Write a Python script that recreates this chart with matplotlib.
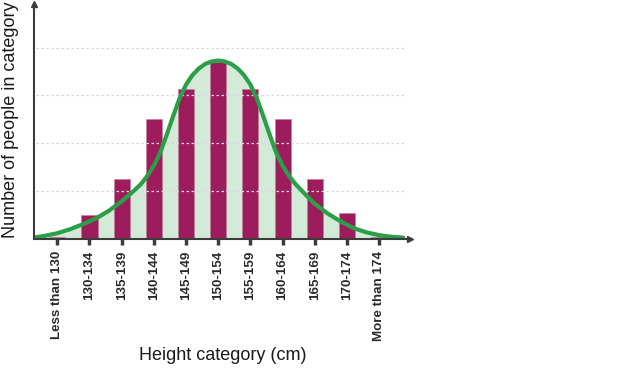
import matplotlib as mpl
mpl.use('Agg')
import matplotlib.pyplot as plt

# categories and bar heights (arbitrary units, one grid line = 20)
categories = ['Less than 130', '130-134', '135-139', '140-144', '145-149', '150-154',
              '155-159', '160-164', '165-169', '170-174', 'More than 174']
counts = [0.5, 10, 25, 50, 62.5, 74, 62.5, 50, 25, 10.5, 0.5]

# bell curve (x in category positions)
curve_x = [-0.75, -0.4, 0.0, 0.4, 0.8, 1.2, 1.6, 2.0, 2.3, 2.6, 2.8, 3.0, 3.2, 3.4,
           3.6, 3.8, 4.0, 4.2, 4.4, 4.6, 4.8, 5.0, 5.2, 5.4, 5.6, 5.8, 6.0, 6.2, 6.4,
           6.6, 6.8, 7.0, 7.2, 7.4, 7.7, 8.0, 8.4, 8.8, 9.2, 9.6, 10.0, 10.4, 10.75]
curve_y = [0.35, 1.1, 2.2, 3.9, 6.0, 8.4, 11.6, 15.6, 19.0, 22.8, 26.3, 30.5, 36.0, 43.5,
           51.3, 58.8, 64.5, 68.5, 71.3, 73.2, 74.2, 74.6, 74.2, 73.2, 71.3, 68.5, 64.5, 58.8,
           51.3, 43.5, 36.0, 30.5, 26.3, 22.8, 18.6, 14.5, 10.5, 7.2, 4.4, 2.6, 1.4, 0.7, 0.4]

grid_levels = [20, 40, 60, 80]

bar_col = '#9d1d5c'
fill_col = '#d4ead8'
line_col = '#2b9e48'
axis_col = '#3c3c3c'

fig = plt.figure(figsize=(6.24, 3.68), dpi=100)
ax = fig.add_axes([34 / 624, (368 - 238.5) / 368, (410 - 34) / 624, (238.5 - 4) / 368])

xpos = list(range(len(categories)))

ax.fill_between(curve_x, 0, curve_y, color=fill_col, lw=0, zorder=1)
ax.bar(xpos, counts, width=0.5, color=bar_col, edgecolor='#c47a9e', linewidth=0.4, zorder=2)
ax.hlines(grid_levels, -0.65, 10.85, colors='#d6d6e6', linestyles=(0, (2, 2)), lw=0.9, zorder=3)
ax.plot(curve_x, curve_y, color=line_col, lw=3.0, solid_joinstyle='round',
        solid_capstyle='round', zorder=4)

ax.set_xlim(-0.724, 10.96)
ax.set_ylim(0, 98.3)

for s in ['top', 'right']:
    ax.spines[s].set_visible(False)
for s in ['left', 'bottom']:
    ax.spines[s].set_color(axis_col)
    ax.spines[s].set_linewidth(1.5)
    ax.spines[s].set_zorder(5)

# arrow heads on the axes
ax.plot(1, 0, '>', color=axis_col, ms=5, transform=ax.transAxes, clip_on=False, zorder=6)
ax.plot(0, 1, '^', color=axis_col, ms=5, transform=ax.transAxes, clip_on=False, zorder=6)

ax.set_yticks([])
ax.set_xticks(xpos)
ax.set_xticklabels(categories, rotation=90, fontsize=9.6, fontweight='bold',
                   family='Liberation Sans', color='#2a2a2a')
ax.tick_params(axis='x', direction='out', length=4, width=2.5, color=axis_col, pad=5)

fig.text(223 / 624, 1 - 356 / 368, 'Height category (cm)', ha='center', va='center',
         fontsize=13, family='Liberation Sans', color='#1a1a1a')
fig.text(11 / 624, 1 - 120 / 368, 'Number of people in category', ha='center', va='center',
         rotation=90, fontsize=13, family='Liberation Sans', color='#1a1a1a')

fig.savefig('out.png', dpi=100)
